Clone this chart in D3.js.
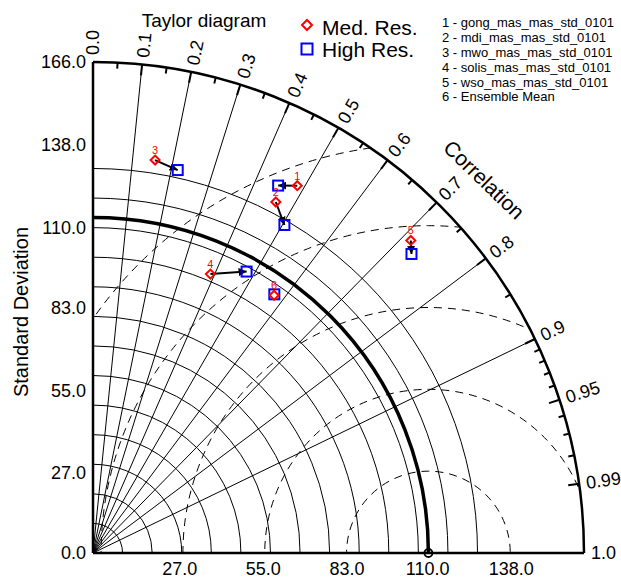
<!DOCTYPE html>
<html>
<head>
<meta charset="utf-8">
<script src="https://cdn.jsdelivr.net/npm/d3@7"></script>
<style>
  html, body { margin: 0; padding: 0; background: #fff; }
  text { font-family: "Liberation Sans", Arial, Helvetica, sans-serif; }
</style>
</head>
<body>
<svg id="chart" width="621" height="580"></svg>
<script>
// ---------------- data ----------------
const modelNames = ["gong_mas_mas_std_0101", "mdi_mas_mas_std_0101", "mwo_mas_mas_std_0101",
                    "solis_mas_mas_std_0101", "wso_mas_mas_std_0101", "Ensemble Mean"];
const medStd   = [142.1, 133.8, 134.5, 102.3, 150.7, 106.5];
const medCorr  = [0.486, 0.462, 0.156, 0.388, 0.713, 0.575];
const highStd  = [139.1, 128.4, 132.6, 108.4, 147.7, 106.8];
const highCorr = [0.450, 0.504, 0.216, 0.479, 0.729, 0.574];
const refStd = 113.4;
const stdMax = 166;
const yTickValues = [0, 27, 55, 83, 110, 138, 166];
const xTickValues = [27, 55, 83, 110, 138];
const gridStd = [10, 20, 30, 40, 50, 60, 70, 80, 90, 100, 110, 120, 130];
const rmsRadii = [166 / 6, 2 * 166 / 6, 3 * 166 / 6, 4 * 166 / 6, 5 * 166 / 6];
const corrLines = [0.1, 0.2, 0.3, 0.4, 0.5, 0.6, 0.7, 0.8, 0.9];
const corrLabels = [0.0, 0.1, 0.2, 0.3, 0.4, 0.5, 0.6, 0.7, 0.8, 0.9, 0.95, 0.99, 1.0];
const corrMinor = [0.05, 0.15, 0.25, 0.35, 0.45, 0.55, 0.65, 0.75, 0.85,
                   0.91, 0.92, 0.93, 0.94, 0.96, 0.97, 0.98];
const legendLabels = ["Med. Res.", "High Res."];

// ---------------- layout ----------------
const svg = d3.select("#chart");
const x0 = 93, y0 = 553, R = 491;
const r = d3.scaleLinear().domain([0, stdMax]).range([0, R]);
const pt = (s, c) => {
  const th = Math.acos(Math.max(-1, Math.min(1, c)));
  return [x0 + r(s) * Math.cos(th), y0 - r(s) * Math.sin(th)];
};
const quarterArc = (rad) => {
  const p = d3.path();
  p.moveTo(x0, y0 - rad);
  p.arc(x0, y0, rad, -Math.PI / 2, 0, false);
  return p.toString();
};

// clip for the quadrant
const defs = svg.append("defs");
const cp = d3.path();
cp.moveTo(x0, y0); cp.lineTo(x0, y0 - R);
cp.arc(x0, y0, R, -Math.PI / 2, 0, false); cp.closePath();
defs.append("clipPath").attr("id", "quad").append("path").attr("d", cp.toString());
defs.append("marker").attr("id", "arrow").attr("viewBox", "0 0 10 10")
  .attr("refX", 10).attr("refY", 5).attr("markerWidth", 4).attr("markerHeight", 4)
  .attr("orient", "auto").attr("markerUnits", "strokeWidth")
  .append("path").attr("d", "M0,0 L10,5 L0,10 Z").attr("fill", "#000");

const g = svg.append("g");

// grid arcs
g.selectAll(".garc").data(gridStd).join("path")
  .attr("d", d => quarterArc(r(d)))
  .attr("fill", "none").attr("stroke", "#000").attr("stroke-width", 1);

// correlation lines
g.selectAll(".cline").data(corrLines).join("line")
  .attr("x1", x0).attr("y1", y0)
  .attr("x2", d => pt(stdMax, d)[0]).attr("y2", d => pt(stdMax, d)[1])
  .attr("stroke", "#000").attr("stroke-width", 1);

// RMS dashed circles
const dashG = g.append("g").attr("clip-path", "url(#quad)");
dashG.selectAll("circle").data(rmsRadii).join("circle")
  .attr("cx", x0 + r(refStd)).attr("cy", y0).attr("r", d => r(d))
  .attr("fill", "none").attr("stroke", "#000").attr("stroke-width", 1)
  .attr("stroke-dasharray", "8,6");

// reference arc
g.append("path").attr("d", quarterArc(r(refStd)))
  .attr("fill", "none").attr("stroke", "#000").attr("stroke-width", 3.5);

// axes and outer arc
g.append("line").attr("x1", x0).attr("y1", y0).attr("x2", x0).attr("y2", y0 - R)
  .attr("stroke", "#000").attr("stroke-width", 2.5);
g.append("line").attr("x1", x0).attr("y1", y0).attr("x2", x0 + R).attr("y2", y0)
  .attr("stroke", "#000").attr("stroke-width", 2.5);
g.append("path").attr("d", quarterArc(R))
  .attr("fill", "none").attr("stroke", "#000").attr("stroke-width", 2.5);

// ticks on outer arc
const tick = (c, len, w) => {
  const a = pt(stdMax, c), b = pt(stdMax * (1 - len / R), c);
  g.append("line").attr("x1", a[0]).attr("y1", a[1]).attr("x2", b[0]).attr("y2", b[1])
    .attr("stroke", "#000").attr("stroke-width", w);
};
corrMinor.forEach(c => tick(c, 6, 2));
corrLabels.filter(c => c > 0 && c < 1).forEach(c => tick(c, 11, 2));

// correlation labels
corrLabels.forEach(c => {
  const th = Math.acos(c) * 180 / Math.PI;
  const p = pt(stdMax * (R + 7) / R, c);
  g.append("text").attr("transform", `translate(${p[0]},${p[1]}) rotate(${-th})`)
    .attr("text-anchor", "start").attr("dy", "0.35em").attr("font-size", 18)
    .text(c === 0 ? "0.0" : c === 1 ? "1.0" : String(c));
});

// std labels
g.selectAll(".yl").data(yTickValues).join("text")
  .attr("x", x0 - 7).attr("y", d => y0 - r(d)).attr("dy", "0.35em")
  .attr("text-anchor", "end").attr("font-size", 18).text(d => d.toFixed(1));
g.selectAll(".xl").data(xTickValues).join("text")
  .attr("x", d => x0 + r(d) * 1.01 + 6).attr("y", 575)
  .attr("text-anchor", "middle").attr("font-size", 18).text(d => d.toFixed(1));

// ref point
g.append("circle").attr("cx", x0 + r(refStd)).attr("cy", y0).attr("r", 4)
  .attr("fill", "none").attr("stroke", "#000").attr("stroke-width", 1.8);

// arrows
modelNames.forEach((n, i) => {
  const a = pt(medStd[i], medCorr[i]), b = pt(highStd[i], highCorr[i]);
  const L = Math.hypot(b[0] - a[0], b[1] - a[1]);
  if (L > 3) {
    g.append("line").attr("x1", a[0]).attr("y1", a[1]).attr("x2", b[0]).attr("y2", b[1])
      .attr("stroke", "#000").attr("stroke-width", 2).attr("marker-end", "url(#arrow)");
  }
});
const diamond = (x, y, h) => `M${x},${y - h}L${x + h},${y}L${x},${y + h}L${x - h},${y}Z`;
// high res squares
modelNames.forEach((n, i) => {
  const b = pt(highStd[i], highCorr[i]);
  g.append("rect").attr("x", b[0] - 5).attr("y", b[1] - 5).attr("width", 10).attr("height", 10)
    .attr("fill", "none").attr("stroke", "#0000ff").attr("stroke-width", 2);
});
// med res diamonds and labels
modelNames.forEach((n, i) => {
  const a = pt(medStd[i], medCorr[i]);
  g.append("path").attr("d", diamond(a[0], a[1], 4.5))
    .attr("fill", "none").attr("stroke", "#ff0000").attr("stroke-width", 2);
  g.append("text").attr("x", a[0]).attr("y", a[1] - 6).attr("text-anchor", "middle")
    .attr("font-size", 11).attr("fill", "#ff0000").text(i + 1);
});

// titles
svg.append("text").attr("x", 204).attr("y", 27).attr("text-anchor", "middle")
  .attr("font-size", 19).text("Taylor diagram");
svg.append("text").attr("transform", "translate(28,312) rotate(-90)").attr("text-anchor", "middle")
  .attr("font-size", 20).text("Standard Deviation");
svg.append("text").attr("transform", "translate(479,185) rotate(44)").attr("text-anchor", "middle")
  .attr("font-size", 21).text("Correlation");

// legend
svg.append("path").attr("d", diamond(307, 25, 5))
  .attr("fill", "none").attr("stroke", "#ff0000").attr("stroke-width", 2);
svg.append("rect").attr("x", 301.5).attr("y", 43.5).attr("width", 11).attr("height", 11)
  .attr("fill", "none").attr("stroke", "#0000ff").attr("stroke-width", 2);
svg.append("text").attr("x", 322).attr("y", 35).attr("font-size", 21).text(legendLabels[0]);
svg.append("text").attr("x", 322).attr("y", 57).attr("font-size", 21).text(legendLabels[1]);

// model list
modelNames.forEach((n, i) => {
  svg.append("text").attr("x", 442).attr("y", 27.4 + i * 14.8).attr("font-size", 13)
    .text(`${i + 1} - ${n}`);
});
</script>
</body>
</html>
